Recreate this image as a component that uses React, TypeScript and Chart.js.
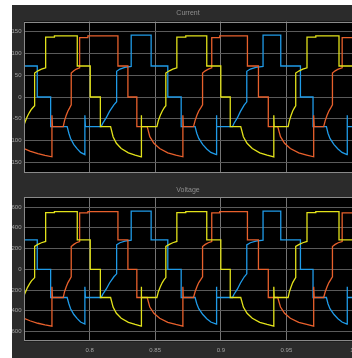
import React, { useEffect, useRef } from 'react';
import { Chart, registerables } from 'chart.js';

Chart.register(...registerables);

// ---- axis ticks ----
const xTickValues = [0.8, 0.85, 0.9, 0.95, 1.0];
const xTickLabels = ['0.8', '0.85', '0.9', '0.95', '1'];
const currentTicks = [-150, -100, -50, 0, 50, 100, 150];
const voltageTicks = [-600, -400, -200, 0, 200, 400, 600];

// ---- phase A (yellow) ----
const yellowT = [
  0.7500, 0.7511, 0.7526, 0.7542, 0.7557, 0.7572, 0.7581, 0.7581, 0.7606, 0.7633,
  0.7665, 0.7665, 0.7732, 0.7732, 0.7906, 0.7906, 0.8005, 0.8005, 0.8082, 0.8082,
  0.8160, 0.8179, 0.8204, 0.8241, 0.8296, 0.8347, 0.8393, 0.8393, 0.8397, 0.8513,
  0.8524, 0.8539, 0.8554, 0.8568, 0.8581, 0.8581, 0.8608, 0.8634, 0.8665, 0.8665,
  0.8733, 0.8733, 0.8893, 0.8893, 0.9000, 0.9000, 0.9072, 0.9072, 0.9152, 0.9172,
  0.9200, 0.9240, 0.9297, 0.9353, 0.9404, 0.9404, 0.9407, 0.9513, 0.9523, 0.9536,
  0.9548, 0.9561, 0.9571, 0.9571, 0.9598, 0.9625, 0.9657, 0.9657, 0.9724, 0.9724,
  0.9901, 0.9901, 1.0000,
];
const yellowCurrent = [
  -64, -55, -44, -35, -28, -23, -20, 55, 60, 64,
  67, 137, 137, 140, 140, 71, 71, 0, 0, -68,
  -68, -91, -106, -118, -128, -133, -137, -42, -68, -68,
  -54, -42, -32, -25, -20, 55, 60, 64, 67, 137,
  137, 140, 140, 71, 71, 0, 0, -68, -68, -91,
  -106, -118, -128, -133, -137, -42, -68, -68, -54, -42,
  -32, -25, -20, 55, 60, 64, 67, 137, 137, 140,
  140, 71, 71,
];
const yellowVoltage = [
  -256, -220, -176, -140, -112, -92, -80, 220, 240, 256,
  268, 546, 546, 556, 556, 284, 284, 0, 0, -272,
  -272, -364, -424, -472, -512, -532, -548, -168, -272, -272,
  -216, -168, -128, -100, -80, 220, 240, 256, 268, 546,
  546, 556, 556, 284, 284, 0, 0, -272, -272, -364,
  -424, -472, -512, -532, -548, -168, -272, -272, -216, -168,
  -128, -100, -80, 220, 240, 256, 268, 546, 546, 556,
  556, 284, 284,
];

// ---- phase B (orange) ----
const orangeT = [
  0.7500, 0.7545, 0.7606, 0.7660, 0.7713, 0.7713, 0.7717, 0.7799, 0.7809, 0.7822,
  0.7835, 0.7848, 0.7860, 0.7860, 0.7880, 0.7899, 0.7924, 0.7924, 0.7987, 0.7987,
  0.8216, 0.8216, 0.8292, 0.8292, 0.8360, 0.8360, 0.8439, 0.8459, 0.8490, 0.8534,
  0.8596, 0.8657, 0.8711, 0.8711, 0.8714, 0.8792, 0.8804, 0.8818, 0.8832, 0.8847,
  0.8861, 0.8861, 0.8882, 0.8905, 0.8931, 0.8931, 0.8992, 0.8992, 0.9203, 0.9203,
  0.9287, 0.9287, 0.9362, 0.9362, 0.9434, 0.9455, 0.9486, 0.9530, 0.9594, 0.9655,
  0.9708, 0.9708, 0.9712, 0.9784, 0.9796, 0.9810, 0.9824, 0.9838, 0.9851, 0.9851,
  0.9872, 0.9895, 0.9925, 0.9925, 1.0000,
];
const orangeCurrent = [
  -118, -124, -130, -134, -137, -42, -68, -68, -54, -42,
  -32, -25, -18, 55, 60, 64, 67, 136, 136, 140,
  140, 71, 71, 0, 0, -68, -68, -91, -106, -118,
  -128, -133, -137, -42, -68, -68, -54, -42, -32, -25,
  -18, 55, 60, 64, 67, 136, 136, 140, 140, 71,
  71, 0, 0, -68, -68, -91, -106, -118, -128, -133,
  -137, -42, -68, -68, -54, -42, -32, -25, -18, 55,
  60, 64, 67, 136, 136,
];
const orangeVoltage = [
  -472, -496, -520, -536, -548, -168, -272, -272, -216, -168,
  -128, -100, -72, 220, 240, 256, 268, 544, 544, 556,
  556, 284, 284, 0, 0, -272, -272, -364, -424, -472,
  -512, -532, -548, -168, -272, -272, -216, -168, -128, -100,
  -72, 220, 240, 256, 268, 544, 544, 556, 556, 284,
  284, 0, 0, -272, -272, -364, -424, -472, -512, -532,
  -548, -168, -272, -272, -216, -168, -128, -100, -72, 220,
  240, 256, 268, 544, 544,
];

// ---- phase C (blue) ----
const blueT = [
  0.7500, 0.7601, 0.7601, 0.7703, 0.7703, 0.7829, 0.7842, 0.7855, 0.7880, 0.7906,
  0.7931, 0.7964, 0.7964, 0.7968, 0.8088, 0.8101, 0.8126, 0.8152, 0.8185, 0.8206,
  0.8206, 0.8231, 0.8269, 0.8317, 0.8317, 0.8469, 0.8469, 0.8596, 0.8596, 0.8698,
  0.8698, 0.8804, 0.8817, 0.8832, 0.8863, 0.8893, 0.8924, 0.8966, 0.8966, 0.8970,
  0.9089, 0.9101, 0.9126, 0.9150, 0.9179, 0.9198, 0.9198, 0.9225, 0.9267, 0.9322,
  0.9322, 0.9457, 0.9457, 0.9607, 0.9607, 0.9703, 0.9703, 0.9805, 0.9817, 0.9832,
  0.9863, 0.9893, 0.9924, 0.9962, 0.9962, 0.9966, 1.0000,
];
const blueCurrent = [
  71, 71, 0, 0, -68, -68, -83, -95, -109, -119,
  -127, -132, -42, -68, -68, -60, -48, -33, -18, -11,
  59, 64, 68, 70, 142, 142, 71, 71, 0, 0,
  -68, -68, -83, -95, -109, -119, -127, -132, -42, -68,
  -68, -60, -48, -33, -18, -11, 59, 64, 68, 70,
  142, 142, 71, 71, 0, 0, -68, -68, -83, -95,
  -109, -119, -127, -132, -42, -68, -68,
];
const blueVoltage = [
  284, 284, 0, 0, -272, -272, -332, -380, -436, -476,
  -508, -528, -168, -272, -272, -240, -192, -132, -72, -44,
  236, 256, 272, 280, 560, 560, 284, 284, 0, 0,
  -272, -272, -332, -380, -436, -476, -508, -528, -168, -272,
  -272, -240, -192, -132, -72, -44, 236, 256, 272, 280,
  560, 560, 284, 284, 0, 0, -272, -272, -332, -380,
  -436, -476, -508, -528, -168, -272, -272,
];

const YELLOW = '#e2e21a';
const ORANGE = '#e8602c';
const BLUE = '#1f9be8';
const FONT = "'Liberation Sans', Arial, sans-serif";

function pts(t: number[], v: number[]) {
  return t.map((x, i) => ({ x, y: v[i] }));
}

const plotFrame = {
  id: 'plotFrame',
  beforeDraw(chart: any) {
    const { ctx, chartArea: a } = chart;
    ctx.save();
    ctx.fillStyle = '#000000';
    ctx.fillRect(a.left, a.top, a.right - a.left, a.bottom - a.top);
    ctx.restore();
  },
  afterDraw(chart: any) {
    const { ctx, chartArea: a } = chart;
    ctx.save();
    ctx.strokeStyle = '#8a8a8a';
    ctx.lineWidth = 1;
    ctx.strokeRect(Math.round(a.left) + 0.5, Math.round(a.top) + 0.5, Math.round(a.right - a.left), Math.round(a.bottom - a.top) - 1);
    ctx.restore();
  },
};

type PanelProps = {
  top: number;
  height: number;
  title: string;
  titlePad: { top: number; bottom: number };
  yMin: number;
  yMax: number;
  yTicks: number[];
  showXLabels: boolean;
  xAxisHeight: number;
  series: { t: number[]; v: number[]; color: string }[];
};

function Panel(p: PanelProps) {
  const ref = useRef<HTMLCanvasElement | null>(null);
  useEffect(() => {
    if (!ref.current) return;
    const chart = new Chart(ref.current, {
      type: 'line',
      data: {
        datasets: p.series.map((s) => ({
          data: pts(s.t, s.v),
          borderColor: s.color,
          borderWidth: 1.3,
          pointRadius: 0,
          tension: 0,
          fill: false,
        })),
      },
      options: {
        animation: false,
        responsive: false,
        events: [],
        layout: { padding: 0 },
        plugins: {
          legend: { display: false },
          tooltip: { enabled: false },
          title: {
            display: true,
            text: p.title,
            color: '#8e8e8e',
            fullSize: false,
            font: { family: FONT, size: 7, weight: 'normal' },
            padding: p.titlePad,
          },
        },
        scales: {
          x: {
            type: 'linear',
            min: 0.75,
            max: 1.0,
            afterBuildTicks: (s: any) => {
              s.ticks = xTickValues.map((v) => ({ value: v }));
            },
            afterFit: (s: any) => {
              s.height = p.xAxisHeight;
              s.paddingLeft = 0;
              s.paddingRight = 0;
            },
            grid: { color: '#747474', drawTicks: false, lineWidth: 1 },
            border: { display: false },
            ticks: {
              display: p.showXLabels,
              autoSkip: false,
              maxRotation: 0,
              padding: 5.7,
              color: '#a2a2a2',
              font: { family: FONT, size: 6 },
              callback: (value: any) => {
                const i = xTickValues.indexOf(Number(value));
                return i >= 0 ? xTickLabels[i] : '';
              },
            },
          },
          y: {
            type: 'linear',
            min: p.yMin,
            max: p.yMax,
            afterBuildTicks: (s: any) => {
              s.ticks = p.yTicks.map((v) => ({ value: v }));
            },
            afterFit: (s: any) => {
              s.width = 12;
              s.paddingTop = 0;
              s.paddingBottom = 0;
            },
            grid: { color: '#5a5a5a', drawTicks: false, lineWidth: 1 },
            border: { display: false },
            ticks: {
              autoSkip: false,
              padding: 2.5,
              color: '#a2a2a2',
              font: { family: FONT, size: 6 },
              callback: (value: any) => String(value),
            },
          },
        },
      },
      plugins: [plotFrame],
    });
    return () => chart.destroy();
  }, []);
  return (
    <canvas
      ref={ref}
      width={340}
      height={p.height}
      style={{ position: 'absolute', left: 12, top: p.top, width: 340, height: p.height }}
    />
  );
}

export default function App() {
  return (
    <div style={{ position: 'fixed', left: 0, top: 0, width: 352, height: 358, background: '#ffffff', overflow: 'hidden' }}>
      <div style={{ position: 'absolute', left: 12, top: 5, width: 340, height: 353, background: '#2b2b2b' }} />
      <Panel
        top={5}
        height={175}
        title="Current"
        titlePad={{ top: 4.1, bottom: 4.0 }}
        yMin={-173}
        yMax={173}
        yTicks={currentTicks}
        showXLabels={false}
        xAxisHeight={7.5}
        series={[
          { t: yellowT, v: yellowCurrent, color: YELLOW },
          { t: orangeT, v: orangeCurrent, color: ORANGE },
          { t: blueT, v: blueCurrent, color: BLUE },
        ]}
      />
      <Panel
        top={180}
        height={178}
        title="Voltage"
        titlePad={{ top: 5.8, bottom: 3.1 }}
        yMin={-694}
        yMax={694}
        yTicks={voltageTicks}
        showXLabels={true}
        xAxisHeight={16.7}
        series={[
          { t: yellowT, v: yellowVoltage, color: YELLOW },
          { t: orangeT, v: orangeVoltage, color: ORANGE },
          { t: blueT, v: blueVoltage, color: BLUE },
        ]}
      />
    </div>
  );
}
